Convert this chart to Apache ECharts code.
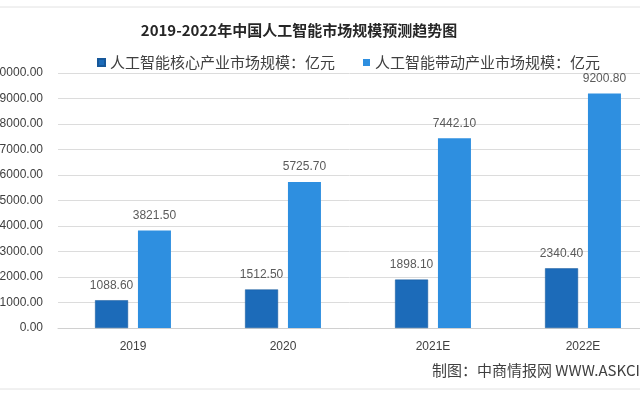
<!DOCTYPE html>
<html>
<head>
<meta charset="utf-8">
<script src="https://cdn.jsdelivr.net/npm/echarts@6/dist/echarts.min.js"></script>
<style>html,body{margin:0;padding:0;background:#fff;}#c{width:640px;height:400px;}</style>
</head>
<body>
<div id="c"></div>
<script>
const categories = ['2019', '2020', '2021E', '2022E'];
const coreValues = [1088.60, 1512.50, 1898.10, 2340.40];
const drivenValues = [3821.50, 5725.70, 7442.10, 9200.80];
const seriesNames = ['人工智能核心产业市场规模：亿元', '人工智能带动产业市场规模：亿元'];
const titleText = '2019-2022年中国人工智能市场规模预测趋势图';
const sourceText = '制图：中商情报网 WWW.ASKCI.COM';

const chart = echarts.init(document.getElementById('c'));
const labelStyle = {
  show: true, position: 'top', distance: 9, color: '#5a5a5a', fontSize: 12,
  fontFamily: 'Liberation Sans, Arial, sans-serif',
  formatter: p => p.value.toFixed(2)
};
chart.setOption({
  backgroundColor: '#ffffff',
  animation: false,
  title: {
    text: titleText, left: 294, top: 18, textAlign: 'center',
    textStyle: { fontSize: 15, fontWeight: 'bold', color: '#262626', fontFamily: 'Noto Sans CJK SC, sans-serif' }
  },
  legend: {
    top: 50, left: 92, itemWidth: 7, itemHeight: 7, itemGap: 28, icon: 'rect',
    textStyle: { fontSize: 15, color: '#404040', fontFamily: 'Noto Sans CJK SC, sans-serif' },
    data: seriesNames
  },
  grid: { left: 58, right: -18, top: 73, bottom: 72, containLabel: false, outerBoundsMode: 'none' },
  xAxis: {
    type: 'category', data: categories,
    axisLine: { lineStyle: { color: '#d0d0d0' } },
    axisTick: { show: false },
    axisLabel: { color: '#404040', fontSize: 12, margin: 13, fontFamily: 'Liberation Sans, Arial, sans-serif' }
  },
  yAxis: {
    type: 'value', min: 0, max: 10000, interval: 1000,
    axisLine: { show: false }, axisTick: { show: false },
    splitLine: { lineStyle: { color: '#dcdcdc' } },
    axisLabel: { color: '#404040', fontSize: 12, margin: 15, fontFamily: 'Liberation Sans, Arial, sans-serif',
      formatter: v => v.toFixed(2) }
  },
  series: [
    { name: seriesNames[0], type: 'bar', data: coreValues, barWidth: 33, barGap: '30%',
      itemStyle: { color: '#1c6bb9', borderColor: '#17589a', borderWidth: 0.5 }, label: labelStyle },
    { name: seriesNames[1], type: 'bar', data: drivenValues, barWidth: 33,
      itemStyle: { color: '#2e8fe0' }, label: labelStyle }
  ],
  graphic: [
    { type: 'line', shape: { x1: 0, y1: 7, x2: 640, y2: 7 }, style: { stroke: '#e2e2e2', lineWidth: 1 } },
    { type: 'line', shape: { x1: 0, y1: 389, x2: 640, y2: 389 }, style: { stroke: '#e2e2e2', lineWidth: 1 } },
    { type: 'text', left: 432, top: 363,
      style: { text: sourceText, fontSize: 15, fill: '#404040', fontFamily: 'Noto Sans CJK SC, sans-serif' } }
  ]
});
</script>
</body>
</html>
